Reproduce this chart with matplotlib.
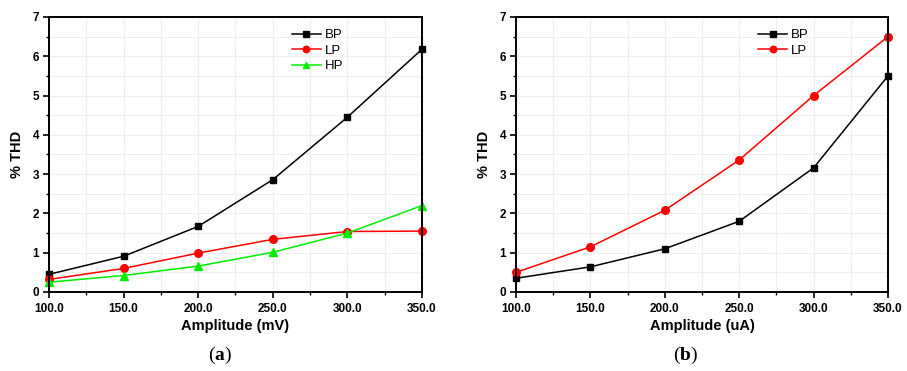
import numpy as np
import matplotlib
matplotlib.use("Agg")
import matplotlib.pyplot as plt
from matplotlib.ticker import MultipleLocator, FormatStrFormatter

plt.rcParams.update({'font.family': 'Liberation Sans'})
plt.rcParams.update({'mathtext.fontset': 'custom',
                     'mathtext.rm': 'Liberation Serif',
                     'mathtext.bf': 'Liberation Serif:bold'})

amplitude = [100, 150, 200, 250, 300, 350]

# panel (a): voltage amplitude
bp_a = [0.45, 0.91, 1.67, 2.86, 4.45, 6.18]
lp_a = [0.32, 0.60, 0.99, 1.34, 1.54, 1.55]
hp_a = [0.25, 0.42, 0.66, 1.01, 1.50, 2.20]

# panel (b): current amplitude
bp_b = [0.35, 0.64, 1.10, 1.80, 3.16, 5.50]
lp_b = [0.50, 1.15, 2.08, 3.36, 5.00, 6.50]

fig = plt.figure(figsize=(9.07, 3.71), dpi=100)
W, H = 907, 371
ax_a = fig.add_axes([49/W, 1-292/H, 373/W, 275/H])
ax_b = fig.add_axes([516/W, 1-292/H, 372/W, 275/H])


def style(ax, xlabel):
    ax.set_xlim(100, 350)
    ax.set_ylim(0, 7)
    ax.xaxis.set_major_locator(MultipleLocator(50))
    ax.xaxis.set_minor_locator(MultipleLocator(25))
    ax.yaxis.set_major_locator(MultipleLocator(1))
    ax.yaxis.set_minor_locator(MultipleLocator(0.5))
    ax.xaxis.set_major_formatter(FormatStrFormatter('%.1f'))
    ax.grid(True, which='both', color='#efefef', lw=0.8)
    ax.set_axisbelow(True)
    ax.tick_params(which='major', direction='out', length=4, width=1.2,
                   labelsize=8.5)
    ax.tick_params(axis='x', which='major', pad=4)
    ax.tick_params(axis='y', which='major', pad=3)
    ax.tick_params(which='minor', direction='out', length=2.5, width=1.0)
    for lab in ax.get_xticklabels() + ax.get_yticklabels():
        lab.set_fontweight('bold')
    for s in ax.spines.values():
        s.set_linewidth(1.4)
    ax.set_xlabel(xlabel, fontsize=10.5, fontweight='bold', labelpad=3)
    ax.set_ylabel('% THD', fontsize=10.5, fontweight='bold', labelpad=6)


ms = 5
ax_a.plot(amplitude, bp_a, color='black', marker='s', ms=ms, lw=1.1, label='BP', clip_on=False)
ax_a.plot(amplitude, lp_a, color='#ff0000', marker='o', ms=ms+0.5, lw=1.1, label='LP', clip_on=False)
ax_a.plot(amplitude, hp_a, color='#00ee00', marker='^', ms=ms+0.5, lw=1.1, label='HP', clip_on=False)
style(ax_a, 'Amplitude (mV)')

ax_b.plot(amplitude, bp_b, color='black', marker='s', ms=ms, lw=1.1, label='BP', clip_on=False)
ax_b.plot(amplitude, lp_b, color='#ff0000', marker='o', ms=ms+0.5, lw=1.1, label='LP', clip_on=False)
style(ax_b, 'Amplitude (uA)')

for ax in (ax_a, ax_b):
    ax.legend(loc='upper left', bbox_to_anchor=(0.63, 0.985), frameon=False,
              fontsize=9.5, handlelength=2.2, handletextpad=0.3,
              labelspacing=0.25, borderaxespad=0.2, markerscale=0.85)

fig.text(220/W, 1-355/H, r'$(\mathbf{a})$', ha='center', va='center', fontsize=14)
fig.text(686/W, 1-355/H, r'$(\mathbf{b})$', ha='center', va='center', fontsize=14)

fig.savefig('out.png', dpi=100)
